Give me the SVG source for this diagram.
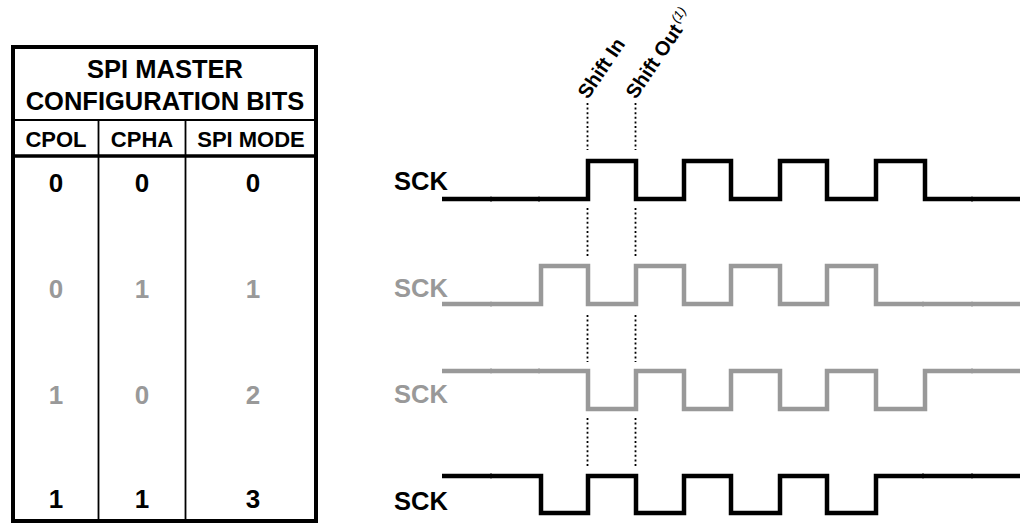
<svg xmlns="http://www.w3.org/2000/svg" width="1022" height="525" viewBox="0 0 1022 525">
<style>
text{font-family:"Liberation Sans",Arial,Helvetica,sans-serif;font-weight:bold;}
.title{font-size:25.5px;text-anchor:middle;}
.hdr{font-size:22px;text-anchor:middle;}
.dig{font-size:26px;text-anchor:middle;}
.sck{font-size:25.5px;}
.blk{fill:#000;}
.gry{fill:#999;}
.wave{fill:none;stroke-width:4.5;stroke-linejoin:miter;stroke-linecap:butt;}
.wb{stroke:#000;}
.wg{stroke:#999;}
.tick{stroke-width:1;}
.dot{stroke:#000;stroke-width:1.8;stroke-dasharray:2 2.6;fill:none;}
.lbl{font-size:20px;}
</style>
<rect width="1022" height="525" fill="#fff"/>
<g id="table">
<rect x="13" y="47" width="303" height="474" fill="none" stroke="#000" stroke-width="4"/>
<line x1="13" y1="120" x2="316" y2="120" stroke="#000" stroke-width="1.8"/>
<line x1="13" y1="156" x2="316" y2="156" stroke="#000" stroke-width="3.5"/>
<line x1="98.5" y1="120" x2="98.5" y2="521" stroke="#000" stroke-width="1.8"/>
<line x1="185.5" y1="120" x2="185.5" y2="521" stroke="#000" stroke-width="1.8"/>
<text class="title" x="165" y="78">SPI MASTER</text>
<text class="title" x="165" y="110">CONFIGURATION BITS</text>
<text class="hdr" x="56" y="147">CPOL</text>
<text class="hdr" x="142" y="147">CPHA</text>
<text class="hdr" x="251" y="147">SPI MODE</text>
<g class="blk"><text class="dig" x="56" y="192">0</text><text class="dig" x="142" y="192">0</text><text class="dig" x="253" y="192">0</text></g>
<g class="gry"><text class="dig" x="56" y="298">0</text><text class="dig" x="142" y="298">1</text><text class="dig" x="253" y="298">1</text></g>
<g class="gry"><text class="dig" x="56" y="404">1</text><text class="dig" x="142" y="404">0</text><text class="dig" x="253" y="404">2</text></g>
<g class="blk"><text class="dig" x="56" y="508">1</text><text class="dig" x="142" y="508">1</text><text class="dig" x="253" y="508">3</text></g>
</g>
<g id="labels">
<text class="lbl blk" transform="translate(588,100) rotate(-56)">Shift In</text>
<text class="lbl blk" transform="translate(636,100) rotate(-56)">Shift Out<tspan dx="2" dy="-8" font-size="13" font-weight="normal" font-style="italic">(1)</tspan></text>
</g>
<g id="markers">
<path class="dot" d="M587.5,103V150M587.5,208V256M587.5,315V362M587.5,418V467"/>
<path class="dot" d="M635.5,103V150M635.5,208V256M635.5,315V362M635.5,418V467"/>
</g>
<g id="mode0">
<text class="sck blk" x="394" y="190">SCK</text>
<path class="wave wb" d="M442,199H588V161H636V199H684V161H731V199H780V161H827V199H876V161H925V199H1020"/>
<path class="tick" stroke="#000" d="M491,196.5V201.8M539,196.5V201.8M972,196.5V201.8"/>
</g>
<g id="mode1">
<text class="sck gry" x="394" y="297">SCK</text>
<path class="wave wg" d="M442,304H541V266H588V304H636V266H684V304H731V266H780V304H827V266H876V304H1020"/>
<path class="tick" stroke="#999" d="M491,301.5V306.8M923,301.5V306.8M972,301.5V306.8"/>
</g>
<g id="mode2">
<text class="sck gry" x="394" y="403">SCK</text>
<path class="wave wg" d="M442,371H588V409H636V371H684V409H731V371H780V409H827V371H876V409H925V371H1020"/>
<path class="tick" stroke="#999" d="M491,368.2V373.5M539,368.2V373.5M972,368.2V373.5"/>
</g>
<g id="mode3">
<text class="sck blk" x="394" y="510">SCK</text>
<path class="wave wb" d="M442,476H541V513H588V476H636V513H684V476H731V513H780V476H827V513H876V476H1020"/>
<path class="tick" stroke="#000" d="M491,473.2V478.5M923,473.2V478.5M972,473.2V478.5"/>
</g>
</svg>
